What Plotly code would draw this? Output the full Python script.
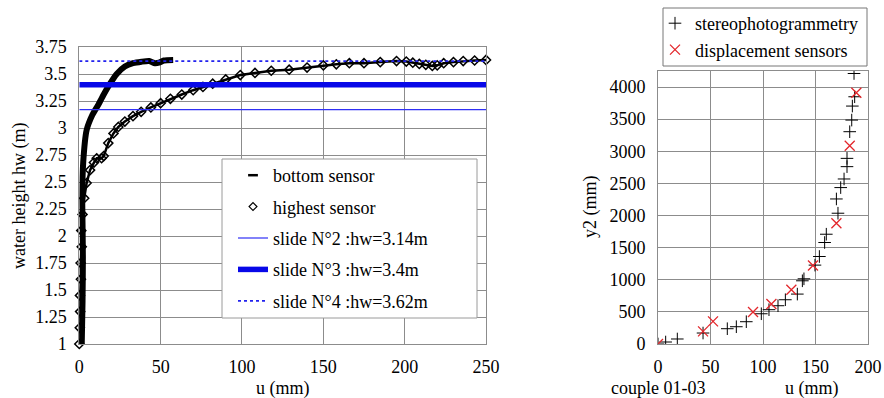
import plotly.graph_objects as go

# ---------------- Left chart data ----------------
bottom_u = [1.5, 2.0, 2.2, 2.0, 1.8, 2.4, 4.5, 8.0, 11.5, 15.0, 18.9, 23.0, 28.0, 33.0,
            38.3, 43.0, 46.5, 49.0, 52.0, 57.7]
bottom_hw = [1.0, 1.4, 1.8, 2.1, 2.36, 2.68, 2.98, 3.12, 3.21, 3.31, 3.41, 3.50, 3.57, 3.60,
             3.614, 3.62, 3.60, 3.605, 3.625, 3.63]

highest_u = [0, 0.3, 0.5, 0.4, 1, 0.8, 1.5, 1.2, 2, 3, 4.5, 6.6, 9, 10.7, 13.7, 15, 17.8, 21,
             24, 28, 33, 38, 44, 50, 56, 63, 70, 76, 82, 90, 99, 108, 118, 129, 140, 150, 158,
             166, 175, 185, 195, 201, 205, 209, 213, 217, 220, 224, 230, 236, 243, 250]
highest_hw = [1.0, 1.15, 1.3, 1.45, 1.6, 1.75, 1.9, 2.05, 2.2, 2.35, 2.49, 2.61, 2.68, 2.72,
              2.72, 2.74, 2.86, 2.95, 3.01, 3.06, 3.11, 3.15, 3.19, 3.23, 3.27, 3.31, 3.35,
              3.38, 3.41, 3.45, 3.49, 3.51, 3.53, 3.54, 3.56, 3.58, 3.59, 3.60, 3.60, 3.61,
              3.62, 3.615, 3.605, 3.593, 3.585, 3.575, 3.58, 3.60, 3.61, 3.62, 3.625, 3.63]

slide_names = ["slide N°2 :hw=3.14m", "slide N°3 :hw=3.4m", "slide N°4 :hw=3.62m"]
slide_levels = [3.17, 3.40, 3.62]
slide_u_span = [0, 250]

left_x_ticks = [0, 50, 100, 150, 200, 250]
left_y_ticks = [1, 1.25, 1.5, 1.75, 2, 2.25, 2.5, 2.75, 3, 3.25, 3.5, 3.75]
left_y_labels = ["1", "1.25", "1.5", "1.75", "2", "2.25", "2.5", "2.75", "3", "3.25", "3.5", "3.75"]

# ---------------- Right chart data ----------------
stereo_u = [0, 7.3, 18.4, 42.9, 66, 74.6, 84.1, 98.4, 105.7, 114.3, 121.3, 132.7, 137.5, 139,
            149.5, 153.7, 158.7, 160.3, 171.4, 169.9, 174, 177.2, 180, 180, 182.6, 184.5,
            185.1, 187.3, 186.7]
stereo_y2 = [0, 31, 78, 171, 238, 269, 347, 471, 534, 596, 689, 777, 984, 1015, 1228, 1362,
             1580, 1709, 2036, 2258, 2435, 2569, 2761, 2890, 3305, 3486, 3704, 3849, 4211]

disp_u = [0, 42.9, 52.4, 90.5, 108, 127, 147.6, 169.9, 182.6, 188.9]
disp_y2 = [0, 197, 352, 497, 622, 844, 1222, 1880, 3087, 3911]

right_x_ticks = [0, 50, 100, 150, 200]
right_y_ticks = [0, 500, 1000, 1500, 2000, 2500, 3000, 3500, 4000]

W, H = 884, 398
FONT = "Liberation Serif, Times New Roman, serif"
GRID = "#8c8c8c"
BLUES = ["#3030f5", "#0808e8", "#2222ee"]
RED = "#e3262b"


def px_x(p):
    return p / W


def px_y(p):
    return 1 - p / H


fig = go.Figure()

# ---- left data traces ----
fig.add_trace(go.Scatter(x=bottom_u, y=bottom_hw, mode="lines",
                         line=dict(color="black", width=6, shape="spline", smoothing=0.6),
                         showlegend=False, xaxis="x", yaxis="y"))
fig.add_trace(go.Scatter(x=highest_u, y=highest_hw, mode="lines+markers",
                         line=dict(color="black", width=2.5),
                         marker=dict(symbol="diamond-open", size=7, color="black",
                                     line=dict(width=1.5, color="black")),
                         cliponaxis=False, showlegend=False, xaxis="x", yaxis="y"))
for lvl, w, dash, col in zip(slide_levels, [1.2, 5.5, 1.8], ["solid", "solid", "dot"], BLUES):
    fig.add_trace(go.Scatter(x=slide_u_span, y=[lvl, lvl], mode="lines",
                             line=dict(color=col, width=w, dash=dash),
                             showlegend=False, xaxis="x", yaxis="y"))

# ---- left legend entries ----
fig.add_trace(go.Scatter(x=[None], y=[None], mode="markers", name="bottom sensor",
                         marker=dict(symbol="line-ew-open", size=7, color="black",
                                     line=dict(width=2.5, color="black")),
                         legend="legend", legendgroup="a", xaxis="x", yaxis="y"))
fig.add_trace(go.Scatter(x=[None], y=[None], mode="markers", name="highest sensor",
                         marker=dict(symbol="diamond-open", size=6, color="black",
                                     line=dict(width=1.2, color="black")),
                         legend="legend", legendgroup="b", xaxis="x", yaxis="y"))
for i, (nm, w, dash, col) in enumerate(zip(slide_names, [1.2, 5.5, 1.8],
                                           ["solid", "solid", "dot"], BLUES)):
    fig.add_trace(go.Scatter(x=[None], y=[None], mode="lines", name=nm,
                             line=dict(color=col, width=w, dash=dash),
                             legend="legend", legendgroup="c%d" % i, xaxis="x", yaxis="y"))

# ---- right data traces ----
fig.add_trace(go.Scatter(x=stereo_u, y=stereo_y2, mode="markers", name="stereophotogrammetry",
                         marker=dict(symbol="cross-thin-open", size=9, color="black",
                                     line=dict(width=1, color="black")),
                         legend="legend2", xaxis="x2", yaxis="y2"))
fig.add_trace(go.Scatter(x=disp_u, y=disp_y2, mode="markers", name="displacement sensors",
                         marker=dict(symbol="x-thin-open", size=10, color=RED,
                                     line=dict(width=1.3, color=RED)),
                         legend="legend2", xaxis="x2", yaxis="y2"))

axis_common = dict(showgrid=True, gridcolor=GRID, gridwidth=1, zeroline=False,
                   showline=True, linecolor=GRID, linewidth=1, mirror=True,
                   ticks="", automargin=False,
                   tickfont=dict(family=FONT, size=18, color="black"))

TXT = dict(family=FONT, size=18, color="black")

fig.update_layout(
    width=W, height=H, autosize=False,
    margin=dict(l=0, r=0, t=0, b=0, pad=0),
    paper_bgcolor="white", plot_bgcolor="white",
    font=TXT,
    xaxis=dict(domain=[px_x(79.3), px_x(486)], range=[0, 250], tickvals=left_x_ticks,
               ticklabelstandoff=6, anchor="y", **axis_common),
    yaxis=dict(domain=[px_y(344), px_y(47)], range=[1, 3.75], tickvals=left_y_ticks,
               ticktext=left_y_labels, ticklabelstandoff=8, anchor="x", **axis_common),
    xaxis2=dict(domain=[px_x(658), px_x(868)], range=[0, 200], tickvals=right_x_ticks,
                ticklabelstandoff=6, anchor="y2", **axis_common),
    yaxis2=dict(domain=[px_y(344), px_y(71)], range=[0, 4250], tickvals=right_y_ticks,
                ticklabelstandoff=8, anchor="x2", **axis_common),
    legend=dict(x=px_x(233), xanchor="left", y=px_y(157), yanchor="top",
                bgcolor="rgba(0,0,0,0)", borderwidth=0, tracegroupgap=5,
                font=TXT),
    legend2=dict(x=px_x(655), xanchor="left", y=px_y(5), yanchor="top",
                 bgcolor="rgba(0,0,0,0)", borderwidth=0, tracegroupgap=0,
                 font=TXT),
    shapes=[
        dict(type="rect", xref="paper", yref="paper", x0=px_x(222), x1=px_x(477),
             y0=px_y(318), y1=px_y(159), fillcolor="white",
             line=dict(color="#9a9a9a", width=1), layer="above"),
        dict(type="rect", xref="paper", yref="paper", x0=px_x(663), x1=px_x(867),
             y0=px_y(66), y1=px_y(8), fillcolor="white",
             line=dict(color="#777777", width=1), layer="above"),
    ],
    annotations=[
        dict(text="water height hw (m)", xref="paper", yref="paper", x=px_x(19), y=px_y(196),
             xanchor="center", yanchor="middle", textangle=-90, showarrow=False, font=TXT),
        dict(text="u (mm)", xref="paper", yref="paper", x=px_x(283), y=px_y(388),
             xanchor="center", yanchor="middle", showarrow=False, font=TXT),
        dict(text="y2 (mm)", xref="paper", yref="paper", x=px_x(590), y=px_y(207),
             xanchor="center", yanchor="middle", textangle=-90, showarrow=False, font=TXT),
        dict(text="couple 01-03", xref="paper", yref="paper", x=px_x(658), y=px_y(388),
             xanchor="center", yanchor="middle", showarrow=False, font=TXT),
        dict(text="u (mm)", xref="paper", yref="paper", x=px_x(812), y=px_y(388),
             xanchor="center", yanchor="middle", showarrow=False, font=TXT),
    ],
)

fig.write_html("out.html", config={"displayModeBar": False},
               post_script="document.body.style.margin='0';document.body.style.padding='0';")
